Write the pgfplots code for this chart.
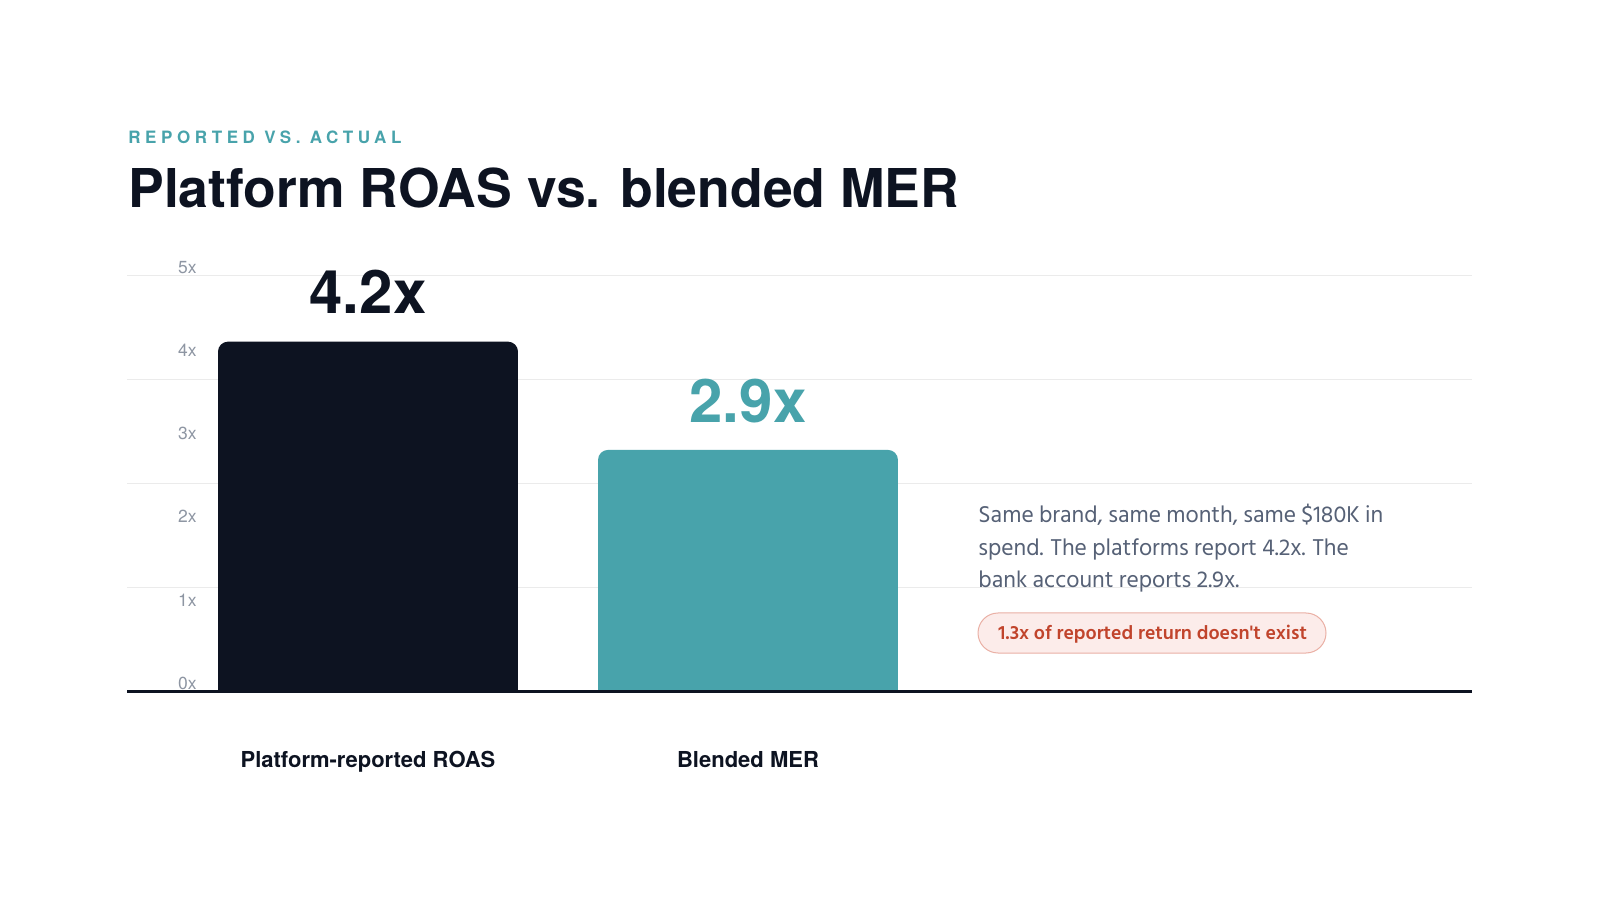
\documentclass[border=0pt]{standalone}
\usepackage{pgfplots}
\pgfplotsset{compat=1.18}
\usepackage{fontspec}
\setmainfont{TeX Gyre Heros}
\newfontfamily\hind{Hind Siliguri}
\newfontfamily\tracked[LetterSpace=27]{TeX Gyre Heros}

\definecolor{navy}{HTML}{0D1321}
\definecolor{teal}{HTML}{48A3AB}
\definecolor{bodygray}{HTML}{566176}
\definecolor{tickgray}{HTML}{8E96A3}
\definecolor{gridc}{HTML}{EBEBEB}
\definecolor{pillfill}{HTML}{FCECEA}
\definecolor{pilldraw}{HTML}{EAB0A5}
\definecolor{pilltext}{HTML}{C1442C}

\begin{document}
\begin{tikzpicture}
% page: 1600x900 px at 0.5pt per px
\path[fill=white] (0,0) rectangle (800pt,450pt);

% heading
\node[anchor=base west, inner sep=0pt, text=teal] at (64pt,378pt)
  {\fontsize{8.5pt}{10pt}\tracked\bfseries REPORTED VS. ACTUAL};
\node[anchor=base west, inner sep=0pt, text=navy] at (64pt,346pt)
  {\fontsize{26.75pt}{30pt}\selectfont\bfseries Platform ROAS vs. blended MER};

\begin{axis}[
    at={(63.5pt,104.25pt)},
    anchor=south west,
    scale only axis,
    width=672.5pt,
    height=208.25pt,
    xmin=-0.6342, xmax=2.9053,
    ymin=0, ymax=5,
    clip mode=individual,
    axis line style={draw=none},
    major tick length=0pt,
    xtick={0,1},
    xticklabels={Platform-reported ROAS, Blended MER},
    xticklabel style={anchor=base, yshift=-38pt, font=\fontsize{11pt}{13pt}\selectfont\bfseries, text=navy},
    ytick={0,1,2,3,4,5},
    yticklabels={0x,1x,2x,3x,4x,5x},
    yticklabel style={anchor=base east, inner sep=0pt, xshift=35pt, yshift=1pt, font=\fontsize{8.75pt}{10pt}\selectfont, text=tickgray},
    extra y ticks={1.25,2.5,3.75,5},
    extra y tick labels={},
    extra y tick style={grid=major, major grid style={draw=gridc, line width=0.5pt}},
]
    % bars: top corners rounded, bottom left square
    \addplot[fill=navy, draw=none, rounded corners=5pt]
        coordinates {(-0.3947,0) (-0.3947,4.2) (0.3947,4.2) (0.3947,0)};
    \addplot[fill=teal, draw=none, rounded corners=5pt]
        coordinates {(0.6053,0) (0.6053,2.9) (1.3947,2.9) (1.3947,0)};

    \node[anchor=base, inner sep=0pt, text=navy, yshift=14pt] at (axis cs:0,4.2)
        {\fontsize{30pt}{32pt}\selectfont\bfseries 4.2x};
    \node[anchor=base, inner sep=0pt, text=teal, yshift=13.5pt] at (axis cs:1,2.9)
        {\fontsize{30pt}{32pt}\selectfont\bfseries 2.9x};

    \draw[navy, line width=1.4pt] (axis cs:-0.6342,0) -- (axis cs:2.9053,0);
\end{axis}

% side note
\begin{scope}[every node/.style={anchor=base west, inner sep=0pt, text=bodygray, font=\hind\fontsize{11.75pt}{14pt}\selectfont}]
\node at (489pt,188.5pt) {Same brand, same month, same \$180K in};
\node at (489pt,172.25pt) {spend. The platforms report 4.2x. The};
\node at (489pt,156pt) {bank account reports 2.9x.};
\end{scope}

\draw[rounded corners=10pt, fill=pillfill, draw=pilldraw, line width=0.5pt]
  (489pt,123.5pt) rectangle (663pt,143.5pt);
\node[anchor=base west, inner sep=0pt, text=pilltext] at (499pt,130.5pt)
  {\hind\fontsize{9.85pt}{11pt}\selectfont\bfseries 1.3x of reported return doesn't exist};
\end{tikzpicture}
\end{document}
